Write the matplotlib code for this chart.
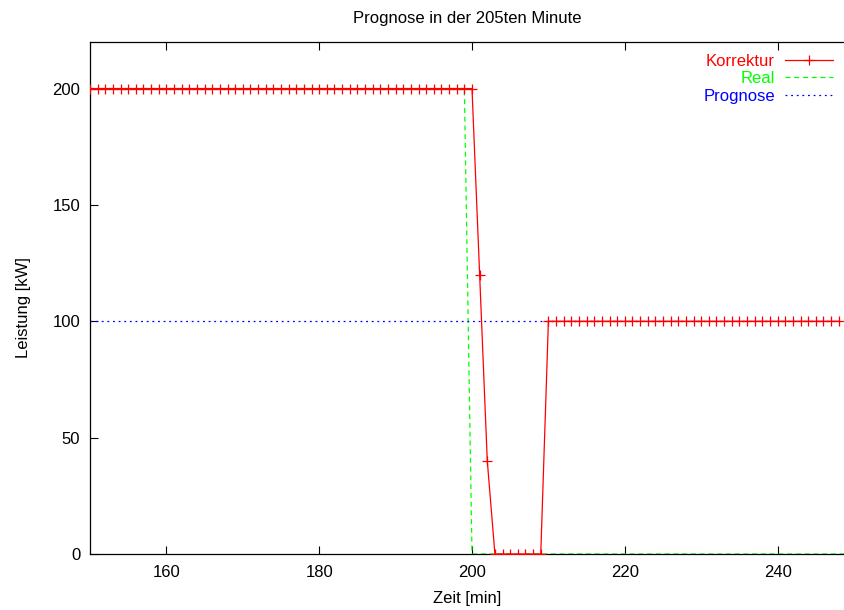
import matplotlib
matplotlib.use("Agg")
import matplotlib.pyplot as plt
import numpy as np

plt.rcParams['font.family'] = ['Liberation Sans', 'DejaVu Sans']

# Data
korr_x = list(range(150, 249))
korr_y = [200] * 51 + [120, 40] + [0] * 7 + [100] * 39
real_x = [150, 199, 200, 249]
real_y = [200, 200, 0, 0]
prog_x = [150, 249]
prog_y = [100, 100]

xticks = [160, 180, 200, 220, 240]
yticks = [0, 50, 100, 150, 200]

fig = plt.figure(figsize=(8.45, 6.1), dpi=100)
ax = fig.add_axes([90/845, (610-554)/610, 755/845, 512/610])

ax.plot(korr_x, korr_y, color='#ff0000', lw=0.9, marker='+', ms=7, mew=0.9,
        label='Korrektur', zorder=3)
ax.plot(real_x, real_y, color='#00ff00', lw=0.9, ls=(0, (4, 3)), label='Real', zorder=2)
ax.plot(prog_x, prog_y, color='#0000ff', lw=0.9, ls=(0, (1.5, 3)), label='Prognose', zorder=2)

ax.set_xlim(150, 150 + 755/7.64)
ax.set_ylim(0, 220)
ax.set_xticks(xticks)
ax.set_yticks(yticks)
ax.tick_params(direction='in', length=6, width=0.8, labelsize=12, top=True, right=False)
ax.tick_params(axis='y', pad=7)
ax.tick_params(axis='x', pad=8)
for s in ['left', 'top', 'bottom']:
    ax.spines[s].set_linewidth(0.9)
ax.spines['right'].set_visible(False)

ax.set_xlabel('Zeit [min]', fontsize=12, labelpad=8)
ax.set_ylabel('Leistung [kW]', fontsize=12)
ax.yaxis.set_label_coords(-0.078, 0.482)
ax.set_title('Prognose in der 205ten Minute', fontsize=12, pad=14)

leg = ax.legend(loc='upper right', bbox_to_anchor=(1.0, 1.0), frameon=False, markerfirst=False,
                labelcolor='linecolor', fontsize=12, handlelength=2.9, handletextpad=0.6,
                labelspacing=0.16, borderaxespad=0.4, borderpad=0.3)

fig.savefig('out.png', dpi=100)
